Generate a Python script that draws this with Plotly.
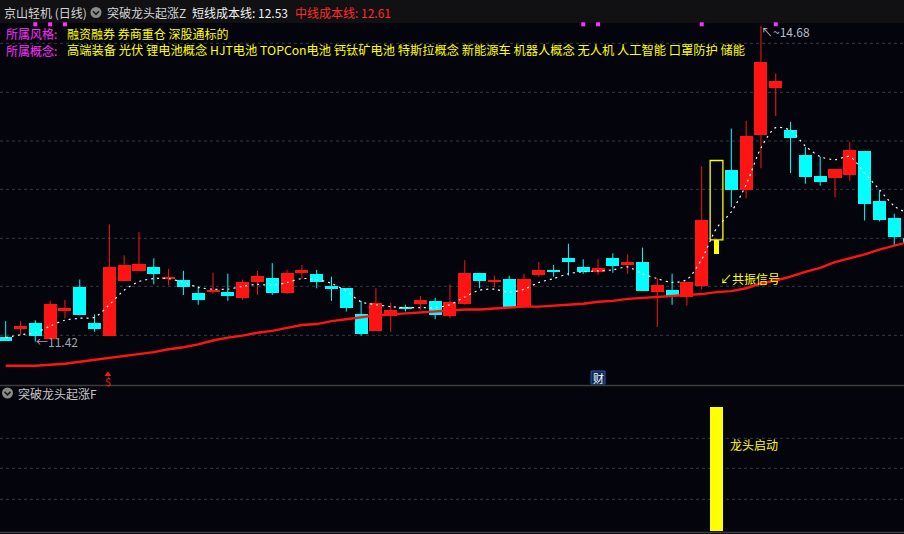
import plotly.graph_objects as go

W, H = 904, 534

# ---------------- data ----------------
idx = list(range(62))
open_p = [11.47, 11.55, 11.61, 11.45, 11.74, 11.98, 11.61, 11.48, 12.05, 12.15,
          12.19, 12.07, 12.06, 11.92, 11.93, 11.93, 11.87, 12.03, 12.08, 11.92,
          12.13, 12.12, 11.99, 11.97, 11.70, 11.53, 11.68, 11.78, 11.81, 11.84,
          11.68, 11.81, 12.13, 12.03, 12.07, 11.78, 12.11, 12.16, 12.28, 12.19,
          12.14, 12.28, 12.21, 12.24, 11.93, 11.95, 11.88, 11.99, 12.47, 13.19,
          12.99, 13.55, 14.04, 13.61, 13.35, 13.13, 13.11, 13.14, 13.39, 12.87,
          12.70, 12.49]
high_p = [11.63, 11.63, 11.64, 11.84, 11.85, 12.06, 11.70, 12.63, 12.31, 12.55,
          12.28, 12.17, 12.15, 11.99, 12.13, 12.12, 12.06, 12.15, 12.23, 12.16,
          12.21, 12.16, 12.09, 11.97, 11.84, 11.97, 11.82, 11.80, 11.89, 11.87,
          12.01, 12.26, 12.13, 12.10, 12.10, 12.12, 12.24, 12.21, 12.43, 12.27,
          12.27, 12.33, 12.32, 12.39, 12.07, 12.12, 12.03, 13.23, 13.29, 13.62,
          13.70, 14.68, 14.19, 13.69, 13.43, 13.33, 13.20, 13.48, 13.39, 12.98,
          12.74, 12.51]
low_p = [11.43, 11.49, 11.42, 11.45, 11.66, 11.69, 11.52, 11.48, 12.05, 12.15,
         12.01, 12.00, 11.90, 11.80, 11.91, 11.84, 11.85, 11.90, 11.90, 11.91,
         12.07, 11.97, 11.84, 11.73, 11.48, 11.53, 11.52, 11.73, 11.75, 11.65,
         11.66, 11.80, 11.97, 11.98, 11.78, 11.78, 12.09, 12.09, 12.10, 12.12,
         12.11, 12.13, 12.12, 11.94, 11.57, 11.80, 11.79, 11.96, 12.32, 12.81,
         12.90, 13.21, 13.75, 13.16, 13.05, 13.03, 12.91, 13.08, 12.67, 12.66,
         12.41, 12.42]
close_p = [11.43, 11.58, 11.48, 11.81, 11.77, 11.69, 11.55, 12.19, 12.21, 12.22,
           12.12, 12.09, 11.98, 11.85, 11.95, 11.89, 12.03, 12.10, 11.92, 12.13,
           12.16, 12.03, 11.96, 11.77, 11.50, 11.82, 11.75, 11.76, 11.85, 11.69,
           11.83, 12.13, 12.05, 12.06, 11.78, 12.07, 12.16, 12.14, 12.24, 12.14,
           12.18, 12.20, 12.24, 11.94, 12.00, 11.89, 12.03, 12.68, 13.29, 12.99,
           13.54, 14.31, 14.11, 13.52, 13.12, 13.07, 13.20, 13.40, 12.84, 12.68,
           12.50, 12.44]
short_cost = [11.46, 11.49, 11.51, 11.58, 11.64, 11.66, 11.67, 11.80, 11.95, 12.04,
              12.07, 12.07, 12.03, 11.98, 11.96, 11.96, 11.99, 12.01, 12.00, 12.03,
              12.07, 12.06, 12.02, 11.94, 11.83, 11.80, 11.78, 11.77, 11.77, 11.77,
              11.80, 11.88, 11.95, 11.96, 11.93, 11.96, 12.03, 12.07, 12.12, 12.14,
              12.15, 12.16, 12.19, 12.12, 12.07, 12.03, 12.06, 12.27, 12.59, 12.76,
              13.04, 13.42, 13.63, 13.60, 13.44, 13.33, 13.30, 13.33, 13.16, 12.99,
              12.82, 12.74]
mid_cost = [11.17, 11.17, 11.17, 11.18, 11.19, 11.21, 11.23, 11.25, 11.27, 11.29,
            11.31, 11.34, 11.36, 11.39, 11.43, 11.46, 11.48, 11.51, 11.53, 11.56,
            11.59, 11.60, 11.63, 11.65, 11.67, 11.69, 11.70, 11.71, 11.72, 11.73,
            11.74, 11.75, 11.75, 11.76, 11.77, 11.78, 11.78, 11.79, 11.80, 11.81,
            11.83, 11.84, 11.86, 11.87, 11.88, 11.89, 11.90, 11.91, 11.93, 11.94,
            11.97, 12.02, 12.05, 12.09, 12.14, 12.18, 12.24, 12.28, 12.32, 12.37,
            12.41, 12.45]
highlight_idx = [48]            # 共振信号 candle (yellow)
dot_idx = [2, 3, 4, 39, 40, 47, 52]
signal_idx = [48]               # 龙头启动 bar in sub panel
signal_val = [1.0]
dollar_idx = 7
cai_idx = 40
max_idx, max_label = 51, "14.68"
min_idx, min_label = 2, "11.42"

title_name = "京山轻机 (日线)"
ind_main = "突破龙头起涨Z"
short_label = "短线成本线: 12.53"
mid_label = "中线成本线: 12.61"
style_label = "所属风格:"
style_text = "融资融券 券商重仓 深股通标的"
concept_label = "所属概念:"
concept_text = ("高端装备 光伏 锂电池概念 HJT电池 TOPCon电池 钙钛矿电池 特斯拉概念 "
                "新能源车 机器人概念 无人机 人工智能 口罩防护 储能")
resonance_text = "↙共振信号"
sub_title = "突破龙头起涨F"
sub_signal_text = "龙头启动"

# ---------------- style ----------------
BG = "#04040c"
RED = "#ff1414"
CYAN = "#00ffff"
YEL = "#ffff00"
MAG = "#ff30ff"
GRID = "#3a3a44"
FONT = "Noto Sans CJK SC"
XR = [-0.385, 60.66]
YR = [10.9704, 14.9487]
MAIN_PX = 385.0
MAIN_DOM = [1 - MAIN_PX / H, 1]
SUB_DOM = [0, 1 - 387 / H]


def px(x):
    return x / W


def py(y):
    return 1 - y / H


def price_at(ypix):
    # y pixel inside the main panel -> value on the main price axis
    return YR[1] - ypix * (YR[1] - YR[0]) / MAIN_PX


fig = go.Figure()

# wicks
for col, cond in ((RED, lambda o, c: c >= o), (CYAN, lambda o, c: c < o)):
    xs, ys = [], []
    for i in idx:
        if i in highlight_idx:
            continue
        if cond(open_p[i], close_p[i]):
            xs += [i, i, None]
            ys += [low_p[i], high_p[i], None]
    fig.add_trace(go.Scatter(x=xs, y=ys, mode="lines",
                             line=dict(color=col, width=1), hoverinfo="skip"))

# bodies
for col, cond in ((RED, lambda o, c: c >= o), (CYAN, lambda o, c: c < o)):
    bx, bb, bh = [], [], []
    for i in idx:
        if i in highlight_idx:
            continue
        o, c = open_p[i], close_p[i]
        if cond(o, c):
            bx.append(i)
            bb.append(min(o, c))
            bh.append(max(abs(c - o), 0.014))
    fig.add_trace(go.Bar(x=bx, y=bh, base=bb, width=0.88,
                         marker=dict(color=col, line=dict(width=0)),
                         hoverinfo="skip"))

# highlighted (yellow) candle: hollow box + thick lower stick
hx = highlight_idx
fig.add_trace(go.Bar(x=hx, base=[open_p[i] for i in hx],
                     y=[close_p[i] - open_p[i] for i in hx], width=0.86,
                     marker=dict(color="rgba(0,0,0,0)", line=dict(color=YEL, width=1.3)),
                     hoverinfo="skip"))
fig.add_trace(go.Bar(x=hx, base=[low_p[i] for i in hx],
                     y=[open_p[i] - low_p[i] for i in hx], width=0.34,
                     marker=dict(color=YEL, line=dict(width=0)), hoverinfo="skip"))

# cost lines
fig.add_trace(go.Scatter(x=idx, y=mid_cost, mode="lines",
                         line=dict(color=RED, width=2.4), hoverinfo="skip"))
fig.add_trace(go.Scatter(x=idx, y=short_cost, mode="lines",
                         line=dict(color="#ffffff", width=1.2, dash="2px,4px", shape="spline",
                                   smoothing=0.8),
                         hoverinfo="skip"))

# magenta signal dots near top
fig.add_trace(go.Scatter(x=dot_idx, y=[price_at(24.3)] * len(dot_idx),
                         mode="markers",
                         marker=dict(symbol="square", size=4, color=MAG, line=dict(width=0)),
                         hoverinfo="skip"))

# small red triangle of the "$" badge
fig.add_trace(go.Scatter(x=[dollar_idx - 0.1], y=[price_at(374.5)], mode="markers",
                         marker=dict(symbol="triangle-up", size=6, color=RED, line=dict(width=0)),
                         hoverinfo="skip"))

# sub panel signal bar
fig.add_trace(go.Bar(x=signal_idx, y=signal_val, width=0.88, xaxis="x2", yaxis="y2",
                     marker=dict(color=YEL, line=dict(width=0)), hoverinfo="skip"))

shapes = []
# title strip
shapes.append(dict(type="rect", xref="paper", yref="paper", x0=0, x1=1, y0=py(23), y1=1,
                   fillcolor="#111114", line=dict(width=0), layer="below"))
# main grid
for gy in [43.3, 92.3, 141, 189.3, 238.3, 286.3, 335.3]:
    shapes.append(dict(type="line", xref="paper", yref="paper", x0=0, x1=1, y0=py(gy), y1=py(gy),
                       line=dict(color=GRID, width=1, dash="dot"), layer="below"))
# sub grid
for gy in [438.3, 468.3, 499.3]:
    shapes.append(dict(type="line", xref="paper", yref="paper", x0=0, x1=1, y0=py(gy), y1=py(gy),
                       line=dict(color=GRID, width=1, dash="dot"), layer="below"))
# separators
for gy, wdt in ((385.5, 1.5), (532.5, 1.5)):
    shapes.append(dict(type="line", xref="paper", yref="paper", x0=0, x1=1, y0=py(gy), y1=py(gy),
                       line=dict(color="#3c3c3c", width=wdt)))
# icons (circle + chevron)
for cx, cy in ((96, 12.5), (7.5, 393)):
    shapes.append(dict(type="circle", xref="paper", yref="paper",
                       x0=px(cx - 5.5), x1=px(cx + 5.5), y0=py(cy + 5.5), y1=py(cy - 5.5),
                       fillcolor="#8a8a8a", line=dict(width=0)))
    shapes.append(dict(type="path", xref="paper", yref="paper",
                       path=f"M {px(cx-3)} {py(cy-1.2)} L {px(cx)} {py(cy+1.8)} L {px(cx+3)} {py(cy-1.2)}",
                       line=dict(color="#1a1a1a", width=1.6)))
# 财 badge
shapes.append(dict(type="rect", xref="x", yref="paper", x0=cai_idx - 0.47, x1=cai_idx + 0.47,
                   y0=py(384), y1=py(371), fillcolor="#0b2a58", line=dict(color="#2c5a9a", width=1)))

ann = []


def text(t, x, y, color, size=12, anchor="left", xref="paper"):
    ann.append(dict(text=t, x=px(x) if xref == "paper" else x, y=py(y), xref=xref, yref="paper",
                    xanchor=anchor, yanchor="middle", showarrow=False,
                    font=dict(family=FONT, size=size, color=color)))


text(title_name, 2, 12.5, "#d4d4d4")
text(ind_main, 105, 12.5, "#d4d4d4")
text(short_label, 190, 12.5, "#f0f0f0")
text(mid_label, 293, 12.5, "#ff2a2a")
text(style_label, 4, 33.5, MAG)
text(style_text, 65, 33.5, YEL)
text(concept_label, 4, 50.5, MAG)
text(concept_text, 65, 50.5, YEL, 12.25)
text("↖~" + max_label, max_idx - 0.12, 31, "#b8bcc8", 12, xref="x")
text("←" + min_label, min_idx - 0.1, 341.5, "#a0a0a8", 12, xref="x")
text(resonance_text, 718, 278, YEL, 12)
text(sub_title, 16, 393, "#c8c8c8")
text(sub_signal_text, 728, 444.5, YEL, 12)
text("$", dollar_idx - 0.1, 380.5, RED, 11, anchor="center", xref="x")
text("财", cai_idx, 377.5, "#ffffff", 11, anchor="center", xref="x")

fig.update_layout(
    width=W, height=H, margin=dict(l=0, r=0, t=0, b=0),
    paper_bgcolor=BG, plot_bgcolor=BG, showlegend=False, barmode="overlay",
    bargap=0,
    xaxis=dict(range=XR, visible=False, fixedrange=True),
    yaxis=dict(range=YR, domain=MAIN_DOM, visible=False, fixedrange=True),
    xaxis2=dict(range=XR, visible=False, anchor="y2", fixedrange=True),
    yaxis2=dict(range=[-0.0242, 1.1613], domain=SUB_DOM, visible=False, fixedrange=True),
    shapes=shapes, annotations=ann, hovermode=False,
)

fig.write_html("out.html", config={"displayModeBar": False, "staticPlot": True},
               post_script="document.body.style.margin='0px';"
                           "document.body.style.background='#04040c';"
                           "document.body.style.overflow='hidden';")
